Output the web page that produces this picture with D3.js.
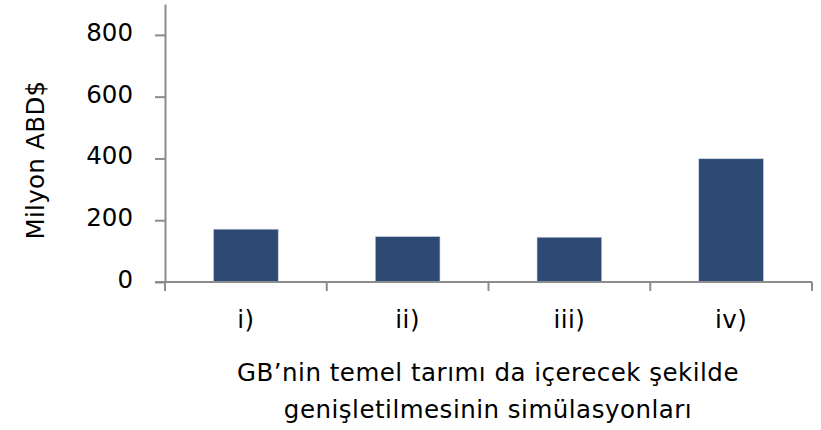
<!DOCTYPE html>
<html>
<head>
<meta charset="utf-8">
<script src="https://cdn.jsdelivr.net/npm/d3@7"></script>
<style>
  body { margin: 0; background: #fff; }
  text { font-family: "DejaVu Sans", sans-serif; fill: #000; }
</style>
</head>
<body>
<div id="my_dataviz"></div>
<script>
// data
var categories = ["i)", "ii)", "iii)", "iv)"];
var values = [171, 147, 145, 399];
var yTicks = [0, 200, 400, 600, 800];
var yLabel = "Milyon ABD$";
var xTitle = ["GB’nin temel tarımı da içerecek şekilde", "genişletilmesinin simülasyonları"];

var fontSize = "24.5px";

var margin = { top: 4, right: 9, bottom: 148, left: 165 },
  width = 821 - margin.left - margin.right,
  height = 430 - margin.top - margin.bottom;

var svg = d3.select("#my_dataviz")
  .append("svg")
  .attr("width", 821)
  .attr("height", 430)
  .append("g")
  .attr("transform", "translate(" + margin.left + "," + margin.top + ")");

var x = d3.scaleBand()
  .domain(categories)
  .range([0, width])
  .paddingInner(0.6)
  .paddingOuter(0.3);

var y = d3.scaleLinear()
  .domain([0, 900])
  .range([height, 0]);

// bars
svg.selectAll(".bar")
  .data(values)
  .enter()
  .append("rect")
  .attr("class", "bar")
  .attr("x", function (d, i) { return x(categories[i]); })
  .attr("width", x.bandwidth())
  .attr("y", function (d) { return y(d); })
  .attr("height", function (d) { return height - y(d); })
  .attr("fill", "#2c4a74")
  .attr("stroke", "#c9d3e0")
  .attr("stroke-width", 0.6);

// y axis
var yAxis = svg.append("g")
  .call(d3.axisLeft(y).tickValues(yTicks).tickSize(10).tickPadding(22).tickSizeOuter(0));
yAxis.select(".domain").attr("stroke", "#8c8c8c").attr("stroke-width", 2);
yAxis.selectAll(".tick line").attr("stroke", "#8c8c8c").attr("stroke-width", 2);
yAxis.selectAll(".tick text")
  .attr("dy", "0.22em")
  .style("font-family", "DejaVu Sans, sans-serif")
  .style("font-size", fontSize)
  .attr("fill", "#000");

// x axis: ticks on category boundaries
var bounds = categories.map(function (c) { return x(c) - x.step() * x.paddingInner() / 2; });
bounds.push(width);
var xAxis = svg.append("g").attr("transform", "translate(0," + height + ")");
xAxis.append("line")
  .attr("x1", -10).attr("x2", width)
  .attr("stroke", "#8c8c8c").attr("stroke-width", 2);
xAxis.selectAll(".bnd")
  .data(bounds)
  .enter()
  .append("line")
  .attr("x1", function (d) { return d; })
  .attr("x2", function (d) { return d; })
  .attr("y1", 0).attr("y2", 9)
  .attr("stroke", "#8c8c8c").attr("stroke-width", 2);
xAxis.selectAll(".lbl")
  .data(categories)
  .enter()
  .append("text")
  .attr("x", function (d) { return x(d) + x.bandwidth() / 2; })
  .attr("y", 46)
  .attr("text-anchor", "middle")
  .style("font-size", fontSize)
  .style("letter-spacing", "0.5px")
  .text(function (d) { return d; });

// x title
svg.append("g")
  .selectAll("text")
  .data(xTitle)
  .enter()
  .append("text")
  .attr("x", 488 - margin.left)
  .attr("y", function (d, i) { return 381 - margin.top + i * 37; })
  .attr("text-anchor", "middle")
  .style("font-size", fontSize)
  .style("letter-spacing", "0.5px")
  .text(function (d) { return d; });

// y title
svg.append("text")
  .attr("transform", "translate(" + (44 - margin.left) + "," + (160 - margin.top) + ") rotate(-90)")
  .attr("text-anchor", "middle")
  .style("font-size", fontSize)
  .style("letter-spacing", "0.3px")
  .text(yLabel);
</script>
</body>
</html>
